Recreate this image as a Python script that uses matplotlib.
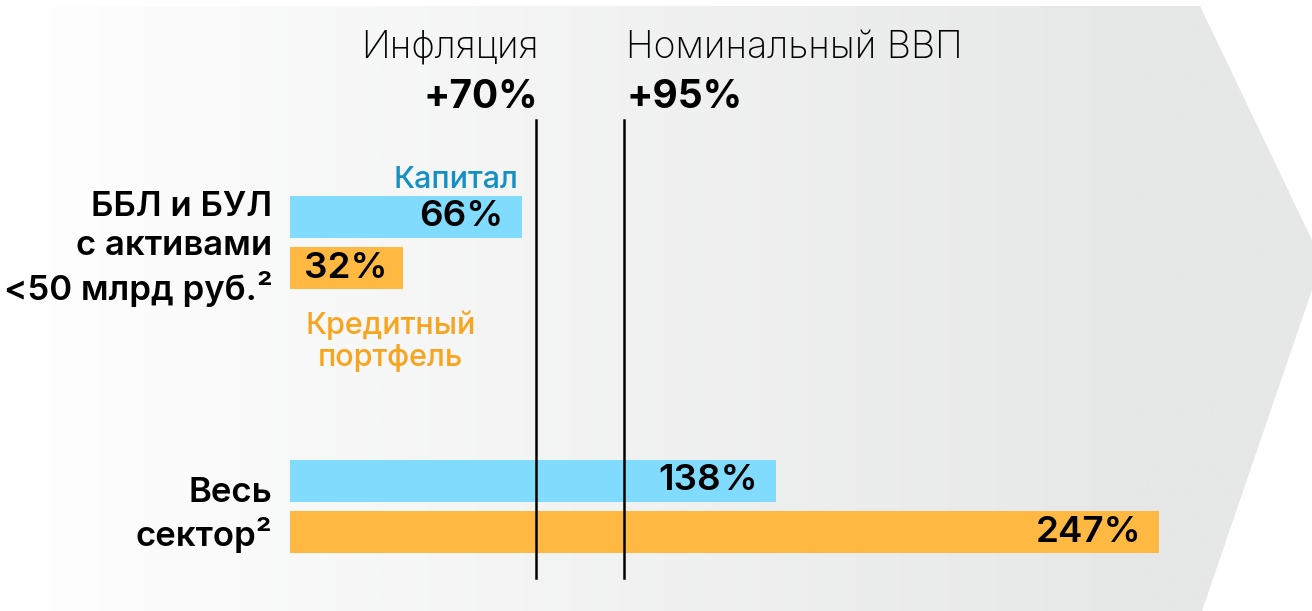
import numpy as np
import matplotlib.pyplot as plt
from matplotlib.patches import Polygon
from matplotlib.colors import LinearSegmentedColormap

plt.rcParams['font.family'] = ['Inter', 'DejaVu Sans']

# data
groups = ["ББЛ и БУЛ\nс активами\n<50 млрд руб.²", "Весь\nсектор²"]
capital = [66, 138]
loans = [32, 247]
inflation = 70
gdp = 95

blue = "#80dbfd"
orange = "#ffb943"

fig = plt.figure(figsize=(13.12, 6.11), dpi=100)
ax = fig.add_axes([0, 0, 1, 1])
px = 3.52  # pixels per percent
ax.set_xlim(-290 / px, (1312 - 290) / px)
ax.set_ylim(611, 0)
ax.axis('off')

# gradient arrow background
x0, x1 = ax.get_xlim()
arrow = Polygon([(x0, 6), ((1200 - 290) / px, 6), ((1312 - 290) / px, 240),
                 ((1312 - 290) / px, 290), ((1202 - 290) / px, 611), (x0, 611)],
                closed=True, facecolor='none', edgecolor='none')
ax.add_patch(arrow)
grad = np.linspace(0, 1, 512)[None, :]
grad = np.clip(grad * 1.15, 0, 1)
cmap = LinearSegmentedColormap.from_list('bg', ['#ffffff', '#e6e7e7'])
im = ax.imshow(grad, cmap=cmap, extent=[x0, x1, 611, 0], aspect='auto', zorder=0)
im.set_clip_path(arrow)

# bars
cap_y = [217, 481]
loan_y = [268, 532]
h = 42
ax.barh(cap_y, capital, height=h, color=blue, zorder=2)
ax.barh(loan_y, loans, height=h, color=orange, zorder=2)

# reference lines
for v in [inflation, gdp]:
    ax.plot([v, v], [120, 578], color='black', lw=1.8, zorder=3)

ax.text(inflation + 0.6, 48, "Инфляция", ha='right', va='center', fontsize=27,
        fontweight='light')
ax.text(inflation + 0.6, 97, f"+{inflation}%", ha='right', va='center', fontsize=28,
        fontweight='bold')
ax.text(gdp + 0.5, 48, "Номинальный ВВП", ha='left', va='center', fontsize=27,
        fontweight='light')
ax.text(gdp + 0.5, 97, f"+{gdp}%", ha='left', va='center', fontsize=28,
        fontweight='bold')

# value labels
ax.text(capital[0] - 5.5, cap_y[0], f"{capital[0]}%", ha='right', va='center',
        fontsize=26.5, fontweight='semibold', zorder=4)
ax.text(4, loan_y[0], f"{loans[0]}%", ha='left', va='center',
        fontsize=26.5, fontweight='semibold', zorder=4)
ax.text(capital[1] - 5, cap_y[1], f"{capital[1]}%", ha='right', va='center',
        fontsize=26.5, fontweight='semibold', zorder=4)
ax.text(loans[1] - 5, loan_y[1], f"{loans[1]}%", ha='right', va='center',
        fontsize=26.5, fontweight='semibold', zorder=4)

# series names
ax.text(65, 180, "Капитал", ha='right', va='center', fontsize=22,
        fontweight='medium', color='#1490c4')
ax.text(28.5, 341, "Кредитный\nпортфель", ha='center', va='center', fontsize=22,
        fontweight='medium', color='#f7a51e', linespacing=1.2)

# group labels
ax.text(-5, 249, groups[0], ha='right', va='center', fontsize=25,
        fontweight='semibold', linespacing=1.3)
ax.text(-5, 515, groups[1], ha='right', va='center', fontsize=25,
        fontweight='semibold', linespacing=1.3)

fig.savefig('out.png', dpi=100)
